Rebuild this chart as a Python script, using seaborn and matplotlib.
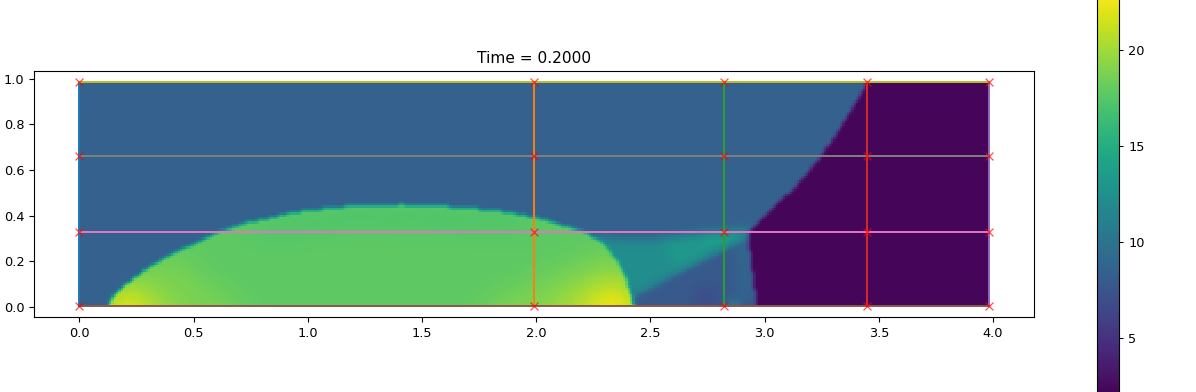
"""Heat field at t = 0.2 with the block grid drawn over it."""
import matplotlib
matplotlib.use("Agg")
import matplotlib.pyplot as plt
import numpy as np
import seaborn as sns
from matplotlib.path import Path

# grid lines of the blocks
X_LINES = [0.0, 1.99, 2.82, 3.45, 3.98]
Y_LINES = [0.005, 0.33, 0.66, 0.985]
V_COLORS = ["C0", "C1", "C2", "C3", "C4"]
H_COLORS = ["C5", "C6", "C7", "C8"]
CBAR_TICKS = [5, 10, 15, 20]

# field values
BACKGROUND = 8.4
PURPLE_VALUE = 2.3
BODY_VALUE = 17.8

PURPLE = [(3.44, 0.99), (3.33, 0.81), (3.23, 0.66), (3.12, 0.53), (3.02, 0.44), (2.92, 0.34),
          (2.93, 0.22), (2.945, 0.10), (2.955, 0.0), (4.0, 0.0), (4.0, 0.99)]
BUBBLE = [(0.105, 0.0), (0.13, 0.05), (0.2, 0.115), (0.3, 0.19), (0.4, 0.245), (0.5, 0.29),
          (0.6, 0.34), (0.7, 0.375), (0.8, 0.395), (0.9, 0.42), (1.0, 0.435), (1.1, 0.445),
          (1.2, 0.455), (1.4, 0.46), (1.6, 0.45), (1.8, 0.435), (1.9, 0.42), (2.0, 0.40),
          (2.1, 0.37), (2.2, 0.34), (2.28, 0.29), (2.34, 0.22), (2.385, 0.13),
          (2.41, 0.05), (2.42, 0.0)]

# nested zones inside the bubble: (value, outline)
BODY_ZONES = [
    (17.0, [(0.7, 0.37), (1.2, 0.46), (1.9, 0.43), (2.0, 0.33), (1.2, 0.36), (0.8, 0.30)]),
    (18.8, [(0.05, 0.0), (0.25, 0.20), (0.42, 0.22), (0.55, 0.10), (0.7, 0.0)]),
    (20.3, [(0.05, 0.0), (0.15, 0.12), (0.25, 0.11), (0.33, 0.05), (0.42, 0.0)]),
    (23.0, [(0.12, 0.0), (0.16, 0.05), (0.22, 0.05), (0.27, 0.0)]),
    (19.0, [(1.75, 0.0), (2.05, 0.14), (2.3, 0.25), (2.45, 0.15), (2.45, 0.0)]),
    (20.5, [(2.05, 0.0), (2.2, 0.10), (2.32, 0.16), (2.45, 0.10), (2.45, 0.0)]),
    (23.0, [(2.22, 0.0), (2.27, 0.05), (2.33, 0.07), (2.42, 0.04), (2.42, 0.0)]),
]
# zones between the bubble and the purple front
WEDGE_ZONES = [
    (12.2, [(2.22, 0.31), (2.5, 0.305), (2.72, 0.33), (2.93, 0.35), (2.92, 0.315), (2.42, 0.05), (2.3, 0.1)]),
    (13.2, [(2.55, 0.31), (2.72, 0.33), (2.93, 0.35), (2.92, 0.32), (2.6, 0.17)]),
    (14.0, [(2.72, 0.325), (2.92, 0.345), (2.91, 0.325), (2.76, 0.27)]),
    (7.8, [(2.43, 0.0), (2.43, 0.05), (2.7, 0.19), (2.92, 0.30), (2.96, 0.0)]),
    (7.0, [(2.68, 0.0), (2.68, 0.09), (2.78, 0.10), (2.8, 0.0)]),
    (11.0, [(2.83, 0.0), (2.84, 0.04), (2.88, 0.03), (2.89, 0.0)]),
    (8.8, [(2.86, 0.28), (2.93, 0.3), (2.93, 0.05), (2.88, 0.05)]),
]

VMIN, VMAX = 2.0, 23.0
NX, NY = 398, 98


def paint(field, xy, polygon, value):
    mask = Path(polygon + polygon[:1]).contains_points(xy).reshape(field.shape)
    field[mask] = value
    return mask


def smooth(field, width):
    """Box blur, run twice, to soften the painted zone edges."""
    kernel = np.ones(width) / width
    out = field
    for _ in range(2):
        pad = np.pad(out, width, mode="edge")
        pad = np.apply_along_axis(np.convolve, 0, pad, kernel, mode="same")
        pad = np.apply_along_axis(np.convolve, 1, pad, kernel, mode="same")
        out = pad[width:-width, width:-width]
    return out


def build_field():
    xs = np.linspace(0.0, 3.98, NX)
    ys = np.linspace(0.985, 0.005, NY)  # heatmap rows run top down
    gx, gy = np.meshgrid(xs, ys)
    xy = np.column_stack([gx.ravel(), gy.ravel()])

    body = np.full((NY, NX), BODY_VALUE)
    for value, zone in BODY_ZONES:
        paint(body, xy, zone, value)
    body = smooth(body, 13)

    field = np.full((NY, NX), BACKGROUND)
    for value, zone in WEDGE_ZONES[:3]:
        paint(field, xy, zone, value)
    field = smooth(field, 5)
    lower = np.full((NY, NX), BACKGROUND)
    lower_mask = paint(lower, xy, WEDGE_ZONES[3][1], WEDGE_ZONES[3][0])
    for value, zone in WEDGE_ZONES[4:]:
        paint(lower, xy, zone, value)
    lower = smooth(lower, 5)
    field[lower_mask] = lower[lower_mask]

    mask = paint(field, xy, BUBBLE, 0.0)
    field[mask] = body[mask]
    paint(field, xy, PURPLE, PURPLE_VALUE)
    return smooth(field, 2)


def main():
    plt.rcParams["font.size"] = 9.3
    W, H = 1196, 392
    fig = plt.figure(figsize=(W / 100, H / 100), dpi=100)
    ax = fig.add_axes([34 / W, (H - 317) / H, 1000 / W, 246 / H])
    # the colorbar runs past the figure edges in the original
    cax = fig.add_axes([1097 / W, (H - 395.6) / H, 22 / W, 403.2 / H])

    # heatmap sits in an inset placed in data coordinates of the main axes
    inset = ax.inset_axes([0.0, 0.005, 3.98, 0.98], transform=ax.transData)
    inset.set_zorder(1)
    sns.heatmap(build_field(), ax=inset, cbar_ax=cax, cmap="viridis", vmin=VMIN, vmax=VMAX,
                xticklabels=False, yticklabels=False, cbar_kws={"ticks": CBAR_TICKS})
    inset.collections[0].colorbar.outline.set_linewidth(0.8)
    cax.tick_params(labelsize=9.3, length=3.2)

    y_ends = [Y_LINES[0], Y_LINES[-1]]
    x_ends = [X_LINES[0], X_LINES[-1]]
    for xv, color in zip(X_LINES, V_COLORS):
        sns.lineplot(x=[xv, xv], y=y_ends, ax=ax, color=color, sort=False, estimator=None, lw=1.4, zorder=2)
    for yv, color in zip(Y_LINES, H_COLORS):
        sns.lineplot(x=x_ends, y=[yv, yv], ax=ax, color=color, sort=False, estimator=None, lw=1.4, zorder=2)

    px, py = np.meshgrid(X_LINES, Y_LINES)
    sns.scatterplot(x=px.ravel(), y=py.ravel(), ax=ax, marker="x", color="red", s=32,
                    linewidth=0.9, alpha=0.7, zorder=3)

    ax.set_xlim(-0.199, 4.179)
    ax.set_ylim(-0.044, 1.034)
    ax.set_xticks(np.arange(0, 4.5, 0.5))
    ax.set_yticks(np.arange(0, 1.2, 0.2))
    ax.set_title("Time = 0.2000", fontsize=11.1)

    fig.savefig("out.png", dpi=100)
    plt.close(fig)


if __name__ == "__main__":
    main()
